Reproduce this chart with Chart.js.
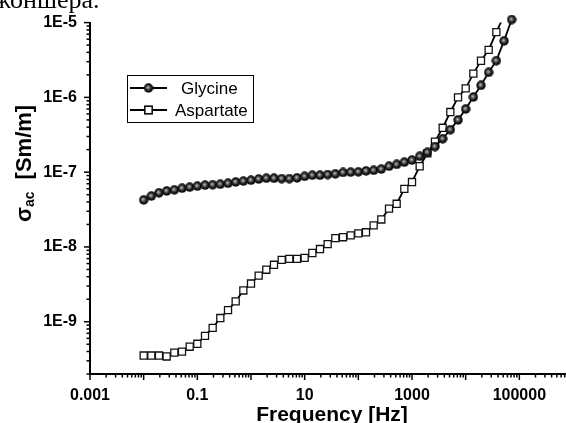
<!DOCTYPE html>
<html>
<head>
<meta charset="utf-8">
<script src="https://cdn.jsdelivr.net/npm/chart.js@4/dist/chart.umd.min.js"></script>
<style>
  body { margin: 0; background: #fff; }
  #wrap { position: relative; width: 566px; height: 423px; overflow: hidden; }
  #chart { position: absolute; left: 0; top: 0; }
  #caption {
    position: absolute; left: -25px; top: -13px;
    font: 26px 'Liberation Serif', 'Times New Roman', serif;
    line-height: 26px; white-space: nowrap; color: #000;
  }
</style>
</head>
<body>
<div id="wrap">
  <canvas id="chart" width="600" height="423"></canvas>
  <div id="caption">Джоншера.</div>
</div>
<script>
// Measurement frequencies, Hz (7 points per decade)
const freqHz = [0.01, 0.0139, 0.0193, 0.0268, 0.0373, 0.0518, 0.072,
  0.1, 0.139, 0.193, 0.268, 0.373, 0.518, 0.72,
  1, 1.39, 1.93, 2.68, 3.73, 5.18, 7.2,
  10, 13.9, 19.3, 26.8, 37.3, 51.8, 72,
  100, 139, 193, 268, 373, 518, 720,
  1000, 1390, 1930, 2680, 3730, 5180, 7200,
  10000, 13900, 19300, 26800, 37300, 51800, 72000];

// AC conductivity, S/m
const glycine = [4.26e-8, 4.8e-8, 5.3e-8, 5.6e-8, 5.8e-8, 6.1e-8, 6.3e-8,
  6.5e-8, 6.7e-8, 6.8e-8, 6.9e-8, 7.1e-8, 7.4e-8, 7.6e-8,
  7.8e-8, 8.1e-8, 8.3e-8, 8.3e-8, 8.2e-8, 8.2e-8, 8.4e-8,
  8.8e-8, 9.1e-8, 9.1e-8, 9.3e-8, 9.5e-8, 9.9e-8, 1.0e-7,
  1.01e-7, 1.04e-7, 1.06e-7, 1.1e-7, 1.2e-7, 1.27e-7, 1.36e-7,
  1.45e-7, 1.63e-7, 1.84e-7, 2.2e-7, 2.8e-7, 3.7e-7, 5.0e-7,
  7.0e-7, 1.01e-6, 1.45e-6, 2.16e-6, 3.1e-6, 5.7e-6, 1.1e-5];

const aspartate = [3.53e-10, 3.53e-10, 3.53e-10, 3.43e-10, 3.86e-10, 3.98e-10, 4.63e-10,
  5.07e-10, 6.47e-10, 8.26e-10, 1.12e-9, 1.43e-9, 1.87e-9, 2.62e-9,
  3.24e-9, 4.13e-9, 4.96e-9, 5.77e-9, 6.71e-9, 6.92e-9, 6.92e-9,
  7.13e-9, 8.3e-9, 9.37e-9, 1.09e-8, 1.31e-8, 1.35e-8, 1.43e-8,
  1.52e-8, 1.57e-8, 1.94e-8, 2.33e-8, 3.25e-8, 3.78e-8, 5.97e-8,
  7.38e-8, 1.2e-7, 1.78e-7, 2.56e-7, 3.92e-7, 6.37e-7, 1.0e-6,
  1.32e-6, 2.08e-6, 3.09e-6, 4.31e-6, 7.45e-6, 1.25e-5, 2.0e-5];

// Labelled ticks
const xLabelValues = [0.001, 0.1, 10, 1000, 100000];
const xTickLabels = ['0.001', '0.1', '10', '1000', '100000'];
const yLabelValues = [1e-9, 1e-8, 1e-7, 1e-6, 1e-5];
const yTickLabels = ['1E-9', '1E-8', '1E-7', '1E-6', '1E-5'];

const FONT = "'Liberation Sans', Arial, sans-serif";

document.addEventListener('DOMContentLoaded', () => {
  // shaded black ball used as the Glycine symbol
  function makeBall() {
    const c = document.createElement('canvas');
    c.width = 10; c.height = 10;
    const g = c.getContext('2d');
    const grad = g.createRadialGradient(4.3, 4.3, 0, 5, 5, 5);
    grad.addColorStop(0, '#d4d4d4');
    grad.addColorStop(0.3, '#6a6a6a');
    grad.addColorStop(0.65, '#141414');
    grad.addColorStop(1, '#000');
    g.fillStyle = grad;
    g.beginPath();
    g.arc(5, 5, 4.7, 0, Math.PI * 2);
    g.fill();
    return c;
  }
  const ball = makeBall();

  const sameValue = (a, b) => Math.abs(a / b - 1) < 1e-6;
  const isDecade = v => Math.abs(Math.log10(v) - Math.round(Math.log10(v))) < 1e-6;

  // 1..9 x 10^n ticks between min and max
  function logTicks(min, max) {
    const ticks = [];
    for (let e = Math.floor(Math.log10(min)); e <= Math.ceil(Math.log10(max)); e++) {
      for (let k = 1; k <= 9; k++) {
        const v = k * Math.pow(10, e);
        if (v >= min * 0.999 && v <= max * 1.001) ticks.push({ value: v });
      }
    }
    return ticks;
  }

  function labelFor(values, labels) {
    return value => {
      const i = values.findIndex(v => sameValue(v, value));
      return i >= 0 ? labels[i] : '';
    };
  }

  // tick marks, axis titles and the boxed legend
  const decor = {
    id: 'decor',
    afterDraw(chart) {
      const ctx = chart.ctx;
      const area = chart.chartArea;
      const xs = chart.scales.x;
      const ys = chart.scales.y;
      ctx.save();
      ctx.strokeStyle = '#000';
      ctx.lineWidth = 1.5;
      xs.ticks.forEach(t => {
        const px = xs.getPixelForValue(t.value);
        const len = isDecade(t.value) ? 6 : 3.5;
        ctx.beginPath();
        ctx.moveTo(px, area.bottom);
        ctx.lineTo(px, area.bottom + len);
        ctx.stroke();
      });
      ys.ticks.forEach(t => {
        const py = ys.getPixelForValue(t.value);
        const len = isDecade(t.value) ? 6 : 3.5;
        ctx.beginPath();
        ctx.moveTo(area.left, py);
        ctx.lineTo(area.left - len, py);
        ctx.stroke();
      });

      ctx.fillStyle = '#000';
      // x title
      ctx.font = 'bold 21px ' + FONT;
      ctx.textAlign = 'center';
      ctx.textBaseline = 'alphabetic';
      ctx.fillText('Frequency [Hz]', 332, 421);

      // y title: sigma with "ac" subscript, rotated
      ctx.save();
      ctx.translate(30.5, 222);
      ctx.rotate(-Math.PI / 2);
      ctx.textAlign = 'left';
      ctx.font = 'bold 22px ' + FONT;
      ctx.fillText('σ', 0, 0);
      let pos = ctx.measureText('σ').width;
      ctx.font = 'bold 14px ' + FONT;
      ctx.fillText('ac', pos, 3);
      pos += ctx.measureText('ac').width + 12;
      ctx.font = 'bold 22px ' + FONT;
      ctx.fillText('[Sm/m]', pos, 0);
      ctx.restore();

      // legend
      ctx.lineWidth = 1;
      ctx.strokeRect(127.5, 75.5, 126, 47);
      chart.data.datasets.forEach((ds, i) => {
        const ly = 88 + i * 22;
        ctx.lineWidth = ds.borderWidth;
        ctx.strokeStyle = ds.borderColor;
        ctx.beginPath();
        ctx.moveTo(130, ly);
        ctx.lineTo(167, ly);
        ctx.stroke();
        Chart.helpers.drawPoint(ctx, {
          pointStyle: ds.pointStyle,
          radius: ds.pointRadius,
          borderWidth: ds.pointBorderWidth
        }, 148.5, ly);
        if (ds.pointStyle === 'rect') {
          ctx.fillStyle = ds.pointBackgroundColor;
          ctx.fill();
          ctx.strokeStyle = ds.pointBorderColor;
          ctx.lineWidth = ds.pointBorderWidth;
          ctx.stroke();
        }
        ctx.fillStyle = '#000';
        ctx.font = '17px ' + FONT;
        ctx.textAlign = 'left';
        ctx.textBaseline = 'middle';
        ctx.fillText(ds.label, i === 0 ? 181 : 175, ly + 1);
      });
      ctx.restore();
    }
  };

  const ctx = document.getElementById('chart').getContext('2d');
  new Chart(ctx, {
    type: 'line',
    data: {
      datasets: [{
        label: 'Glycine',
        data: freqHz.map((f, i) => ({ x: f, y: glycine[i] })),
        borderColor: '#000',
        borderWidth: 1.8,
        pointStyle: ball,
        pointRadius: 5,
        pointBorderWidth: 0,
        clip: false
      }, {
        label: 'Aspartate',
        data: freqHz.map((f, i) => ({ x: f, y: aspartate[i] })),
        borderColor: '#000',
        borderWidth: 1.8,
        pointStyle: 'rect',
        pointRadius: 5,
        pointBackgroundColor: '#fff',
        pointBorderColor: '#111',
        pointBorderWidth: 1.3,
        clip: 0
      }]
    },
    options: {
      responsive: false,
      animation: false,
      devicePixelRatio: 1,
      events: [],
      layout: { padding: { top: 18, right: 27, left: 0, bottom: 0 } },
      plugins: { legend: { display: false }, tooltip: { enabled: false } },
      scales: {
        x: {
          type: 'logarithmic',
          min: 0.001,
          max: 1e6,
          afterBuildTicks: s => { s.ticks = logTicks(s.min, s.max); },
          afterFit: s => { s.height = 49; },
          grid: { display: false, drawTicks: false },
          border: { display: true, color: '#000', width: 2 },
          ticks: {
            autoSkip: false,
            maxRotation: 0,
            padding: 12,
            color: '#000',
            font: { family: FONT, size: 16, weight: 'bold' },
            callback: labelFor(xLabelValues, xTickLabels)
          }
        },
        y: {
          type: 'logarithmic',
          min: 2e-10,
          max: 1e-5,
          afterBuildTicks: s => { s.ticks = logTicks(s.min, s.max); },
          afterFit: s => { s.width = 90; },
          grid: { display: false, drawTicks: false },
          border: { display: true, color: '#000', width: 2 },
          ticks: {
            autoSkip: false,
            padding: 13,
            color: '#000',
            font: { family: FONT, size: 16, weight: 'bold' },
            callback: labelFor(yLabelValues, yTickLabels)
          }
        }
      }
    },
    plugins: [decor]
  });
});
</script>
</body>
</html>
